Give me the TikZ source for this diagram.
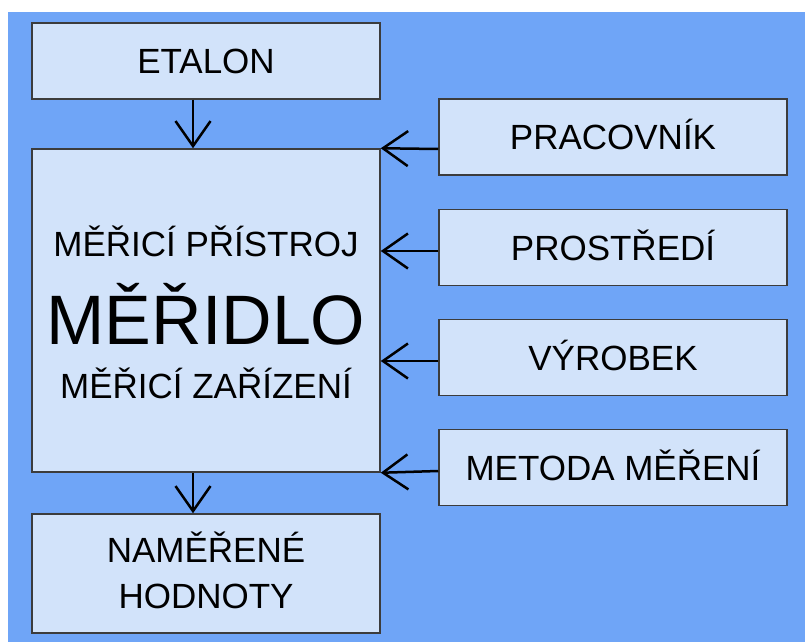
\documentclass[tikz,border=0pt]{standalone}
\usepackage{fontspec}
\setmainfont{Liberation Sans}
\usetikzlibrary{arrows.meta}
\definecolor{bgblue}{HTML}{6FA5F7}
\definecolor{boxfill}{HTML}{D2E3FA}
\definecolor{boxline}{HTML}{3C3C3C}
\tikzset{
  box/.style={draw=boxline, line width=1.5pt, fill=boxfill, inner sep=0pt,
    minimum width=348pt, minimum height=76pt,
    text height=25pt, text depth=0pt,
    font=\fontsize{35}{42}\selectfont},
  lbl/.style={anchor=base, inner sep=0pt, font=\fontsize{35}{46}\selectfont},
  arr/.style={line width=2.5pt,
    -{Straight Barb[length=25pt,width=35pt,line width=2.5pt]}}
}
\begin{document}
\begin{tikzpicture}[x=1pt,y=-1pt]
  \useasboundingbox (0,0) rectangle (805,644);
  \fill[white] (0,0) rectangle (805,644);
  \fill[bgblue] (8,12) rectangle (805,642);

  % left column
  \node[box] (et) at (206,61) {ETALON};
  \node[box, minimum height=323pt] (big) at (206,310.5) {};
  \node[lbl] (l1) at (206,257) {MĚŘICÍ PŘÍSTROJ};
  \node[lbl, font=\fontsize{70}{80}\selectfont] (l2) at (206,344) {MĚŘIDLO};
  \node[lbl] (l3) at (206,398) {MĚŘICÍ ZAŘÍZENÍ};
  \node[box, minimum height=119pt] (res) at (206,573.5) {};
  \node[lbl] (r1) at (206,562) {NAMĚŘENÉ};
  \node[lbl] (r2) at (206,608) {HODNOTY};

  % influences on the right
  \node[box] (pr) at (613,137) {PRACOVNÍK};
  \node[box] (ps) at (613,247.5) {PROSTŘEDÍ};
  \node[box] (vy) at (613,357.5) {VÝROBEK};
  \node[box] (me) at (613,467.5) {METODA MĚŘENÍ};

  % vertical flow
  \draw[arr] ([xshift=-13pt]et.south) -- ([xshift=-13pt]big.north);
  \draw[arr] ([xshift=-13pt]big.south) -- ([xshift=-13pt]res.north);

  % horizontal inputs
  \draw[arr] ([yshift=-12pt]pr.west) -- (big.north east);
  \coordinate (p2) at ([yshift=-3.5pt]ps.west);
  \draw[arr] (p2) -- (p2 -| big.east);
  \coordinate (p3) at ([yshift=-3.5pt]vy.west);
  \draw[arr] (p3) -- (p3 -| big.east);
  \draw[arr] ([yshift=-3.5pt]me.west) -- (big.south east);
\end{tikzpicture}
\end{document}
